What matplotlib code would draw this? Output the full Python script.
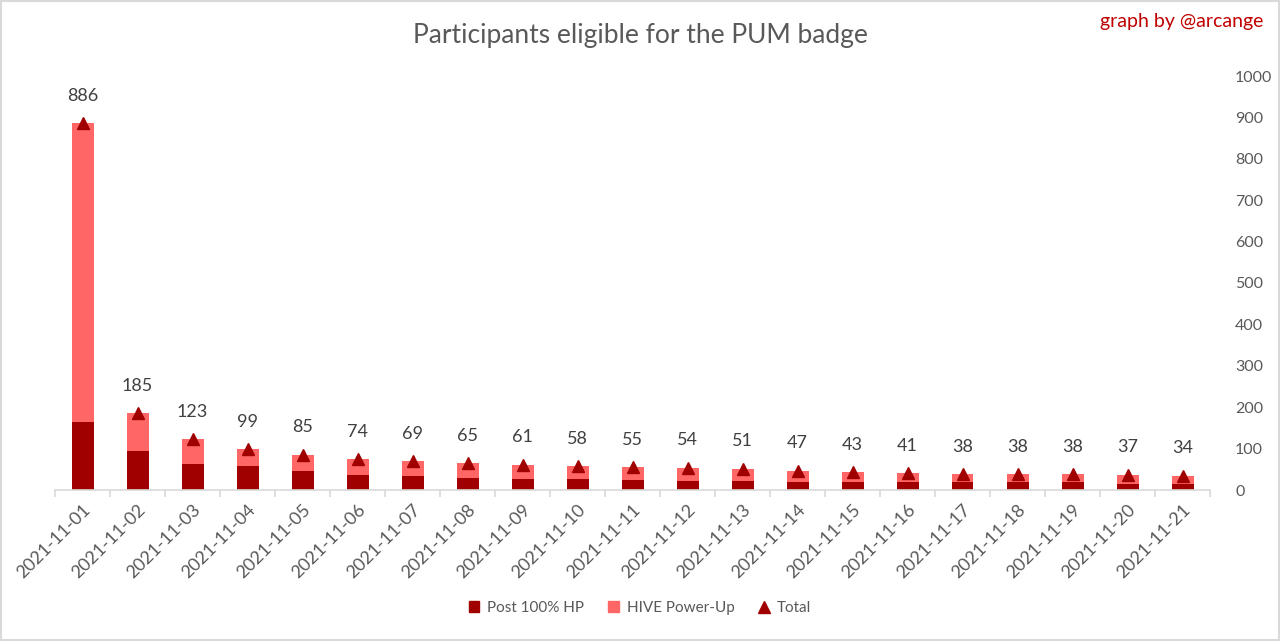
import numpy as np
import matplotlib.pyplot as plt
from matplotlib.lines import Line2D
from matplotlib.patches import Patch

plt.rcParams['font.family'] = ['Lato', 'DejaVu Sans']

dates = ['2021-11-%02d' % d for d in range(1, 22)]
total = [886, 185, 123, 99, 85, 74, 69, 65, 61, 58, 55, 54, 51, 47, 43, 41, 38, 38, 38, 37, 34]
post_hp = [165, 93, 62, 59, 45, 37, 33, 28, 27, 27, 24, 22, 22, 20, 20, 20, 20, 19, 19, 15, 15]
power_up = [t - p for t, p in zip(total, post_hp)]

dark = '#A00000'
light = '#FF6666'
grey = '#595959'

fig = plt.figure(figsize=(12.8, 6.41), dpi=100)
ax = fig.add_axes([55 / 1280, 1 - 490 / 641, (1210 - 55) / 1280, (490 - 76) / 641])

x = np.arange(len(dates))
ax.bar(x, post_hp, width=0.4, color=dark, zorder=2)
ax.bar(x, power_up, width=0.4, bottom=post_hp, color=light, zorder=2)
ax.plot(x, total, linestyle='none', marker='^', markersize=9, color=dark, zorder=3)

for xi, t in zip(x, total):
    ax.annotate(str(t), (xi, t), xytext=(0, 14), textcoords='offset points',
                ha='center', va='bottom', fontsize=13, color='#404040')

ax.set_xlim(-0.5, len(dates) - 0.5)
ax.set_ylim(0, 1000)
ax.set_yticks(range(0, 1001, 100))
ax.yaxis.tick_right()
ax.tick_params(axis='y', length=0, labelsize=11.5, labelcolor=grey, pad=18)

ax.set_xticks(x)
ax.set_xticklabels(dates, rotation=45, ha='right', rotation_mode='anchor')
ax.set_xticks(np.arange(-0.5, len(dates)), minor=True)
ax.tick_params(axis='x', which='major', length=0, labelsize=13, labelcolor=grey, pad=8)
ax.tick_params(axis='x', which='minor', length=5, color='#D9D9D9', width=1.2)

for s in ['top', 'left', 'right']:
    ax.spines[s].set_visible(False)
ax.spines['bottom'].set_color('#D9D9D9')
ax.spines['bottom'].set_linewidth(1.2)

fig.text(0.5, 1 - 36 / 641, 'Participants eligible for the PUM badge', ha='center', va='center',
         fontsize=19, color=grey)
fig.text(1 - 17 / 1280, 1 - 22 / 641, 'graph by @arcange', ha='right', va='center',
         fontsize=14, color='#C00000')

handles = [Patch(color=dark, label='Post 100% HP'),
           Patch(color=light, label='HIVE Power-Up'),
           Line2D([], [], linestyle='none', marker='^', markersize=9, color=dark, label='Total')]
fig.legend(handles=handles, loc='center', bbox_to_anchor=(0.5, 1 - 608 / 641), ncol=3,
           frameon=False, fontsize=11, labelcolor=grey, handlelength=0.7, handleheight=0.7,
           handletextpad=0.5, columnspacing=1.6)

fig.patches.append(plt.Rectangle((0.001, 0.001), 0.998, 0.998, transform=fig.transFigure,
                                 fill=False, edgecolor='#D9D9D9', linewidth=1.5))

fig.savefig('out.png', dpi=100)
